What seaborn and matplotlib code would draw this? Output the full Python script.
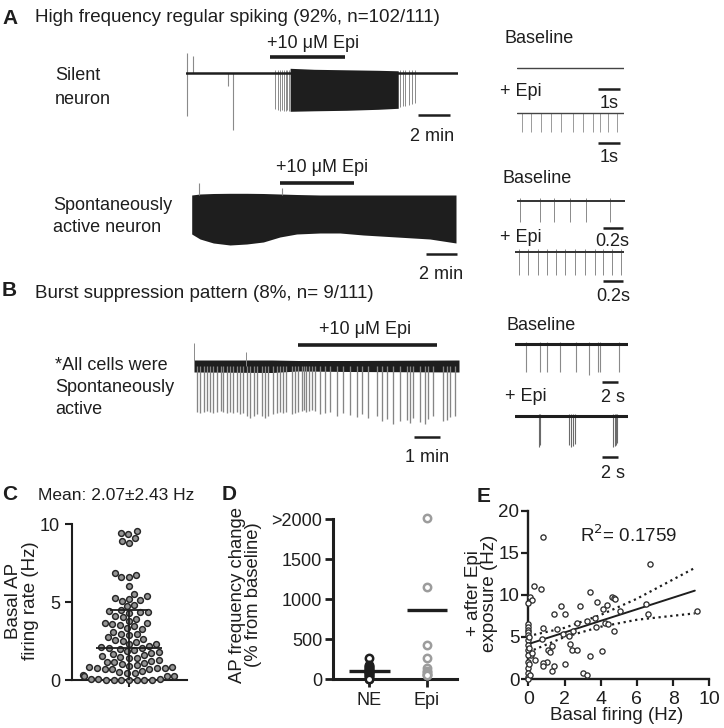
import numpy as np
import pandas as pd
import seaborn as sns
import matplotlib.pyplot as plt

# ---------------- data ----------------
# A, silent neuron (time in min, amplitude in arbitrary mV)
silent_len = 17.0
silent_events_t = [0.04, 0.46, 2.65, 2.96]
silent_events_up = [20, 17, 0, 0]
silent_events_dn = [-43, 0, -13, -57]
silent_pre_t = [5.56, 5.75, 5.88, 6.0, 6.13, 6.25, 6.31, 6.44]
silent_pre_dn = [-36, -37, -38, -37, -38, -38, -37, -38]
silent_block_t = [6.5, 8.0, 10.0, 12.0, 13.25]
silent_block_hi = [5, 4, 3.5, 3, 2.5]
silent_block_lo = [-38, -37.5, -37, -36, -35]
silent_post_t = [13.37, 13.54, 13.69, 13.9, 14.1, 14.31]
silent_post_dn = [-34, -33, -33, -32, -31, -30]
silent_epi = [5.25, 9.94]

# A, spontaneously active neuron (envelope of the dense firing)
active_len = 17.2
active_t = [0, 0.54, 1.41, 2.49, 3.58, 4.66, 5.74, 6.83, 8.35, 9.65, 11.17, 13.34, 15.5, 17.2]
active_hi = [0, 1, 1.5, 1.7, 1.7, 1.5, 1, 0.5, 0, 0, 0, 0, 0, 0]
active_lo = [-39, -44, -48, -50, -49, -47, -42, -39, -38, -38, -40, -42, -44, -48]
active_spk_t = [0.48, 5.86]
active_spk_up = [12, 7]
active_epi = [5.75, 10.57]

# A insets (time in s)
a1_len = 4.95
a1_epi_spk = [0.24, 0.65, 1.11, 1.57, 2.04, 2.58, 3.07, 3.5, 3.84, 4.22, 4.63]
a2_len = 1.1
a2_base_spk = [0.034, 0.237, 0.379, 0.541, 0.704, 0.947]
a2_epi_spk = [0.044, 0.135, 0.237, 0.322, 0.416, 0.508, 0.609, 0.711,
              0.812, 0.89, 0.982, 1.066]

# B, burst suppression (time in min)
b_len = 10.2
b_band_t = [0, 3, 4, 6, 10.2]
b_band_hi = [6, 6, 5.5, 5.5, 6]
b_band_lo = [-6, -6.5, -5, -5.5, -6]
b_spk_t = [0.10, 0.23, 0.38, 0.49, 0.62, 0.74, 0.90, 1.03, 1.13, 1.26, 1.38, 1.51,
           1.64, 1.77, 1.90, 2.03, 2.15, 2.31, 2.44, 2.60, 2.73, 2.86, 3.03, 3.18,
           3.31, 3.44, 3.56, 3.76, 3.88, 4.01, 4.14, 4.23, 4.33, 4.44, 4.53, 4.65,
           4.85, 5.04, 5.23, 5.49, 5.74, 6.0, 6.26, 6.45, 6.71, 7.03, 7.22, 7.41,
           7.67, 7.92, 8.18, 8.31, 8.44, 8.69, 8.88, 9.01, 9.21, 9.59, 9.72, 9.87, 10.04]
b_spk_dn = [-46, -47, -46, -45, -46, -47, -46, -45, -46, -47, -46, -47,
            -46, -48, -47, -50, -52, -50, -48, -50, -52, -50, -48, -47,
            -46, -47, -46, -48, -47, -46, -45, -44, -46, -45, -44, -45,
            -48, -47, -46, -50, -47, -49, -51, -48, -52, -50, -55, -53,
            -58, -55, -54, -57, -52, -56, -58, -53, -50, -55, -54, -51, -50]
b_up_t = [0.0, 2.0]
b_up = [23, 14]
b_epi = [4.0, 9.35]

# B insets (time in s)
bi_len = 13.6
bi_base_spk = [1.33, 3.0, 3.9, 5.4, 7.35, 8.9, 10.0, 10.25, 12.55]
bi_base_dn = [-28, -28, -28, -28, -28, -31, -28, -28, -28]
bi_epi_spk = [2.9, 2.97, 6.54, 6.71, 7.03, 7.27, 11.85, 12.01, 12.17, 12.33]
bi_epi_dn = [-31, -29, -29, -31, -30, -28, -31, -30, -29, -27]

# C, basal firing rate (Hz)
basal_rate = [9.55, 9.45, 9.35, 9.1, 8.95, 8.8,
              6.85, 6.75, 6.65, 6.6, 6.05, 5.55, 5.4,
              5.25, 5.2, 5.15, 5.1, 4.85, 4.75,
              4.5, 4.45, 4.4, 4.35, 4.3, 4.15, 4.05, 3.95,
              3.8, 3.7, 3.65, 3.6, 3.55, 3.45, 3.35, 3.3,
              3.1, 3.0, 2.95, 2.9, 2.75, 2.65, 2.6, 2.55,
              2.45, 2.35, 2.3, 2.2, 2.15, 2.1, 2.05, 2.0, 1.95,
              1.85, 1.8, 1.75, 1.7, 1.6, 1.55, 1.5, 1.45, 1.4,
              1.3, 1.25, 1.2, 1.15, 1.1, 1.05,
              0.95, 0.9, 0.85, 0.85, 0.8, 0.8, 0.8, 0.75, 0.75, 0.7,
              0.6, 0.55, 0.5, 0.45,
              0.35, 0.3, 0.3, 0.25,
              0.1, 0.08, 0.06, 0.05, 0.04, 0.03, 0.02, 0.01, 0.0, 0.0]
basal_mean = 2.07
basal_sd = 2.43

# D, AP frequency change (% from baseline)
groups = ['NE', 'Epi']
ne_change = [262, 185, 170, 155, 140, 125, 115, 105, 100, 95, 90, 80, 70, 55, 40, 25, 10, 0]
epi_change = [2020, 1158, 429, 262, 140, 110, 90, 70, 60, 50]
group_means = [104, 866]
d_ticks = [0, 500, 1000, 1500, 2000]
d_ticklabels = ['0', '500', '1000', '1500', '>2000']

# E, basal vs after Epi (Hz)
e_basal = [0.83, 0.31, 0.68, 0.09, 0.22, 0.79, 0.74, 0.37, 0.15, 1.05, 0.79, 0.83, 1.29,
           0, 0, 0, 0, 0, 0, 0, 0, 0, 0, 0, 0, 0, 0, 0, 0.05, 0.05, 0.05, 0.1, 0.18,
           1.1, 1.2, 1.33, 1.42, 1.42, 1.57, 1.79, 1.9, 2.03, 2.03, 2.27, 2.3, 2.43,
           2.49, 2.67, 2.67, 2.85, 3.04, 3.26, 3.22, 3.4, 3.4, 3.68, 3.74, 3.78, 4.09,
           4.14, 4.24, 4.33, 4.42, 4.6, 4.75, 4.79, 4.75, 5.06, 6.5, 6.59, 6.72, 9.3]
e_after = [16.9, 11.05, 10.7, 9.7, 9.4, 6.1, 4.7, 2.26, 2.9, 2.0, 1.9, 1.6, 0.9,
           9.0, 6.5, 6.2, 5.8, 5.6, 5.2, 4.6, 4.0, 3.4, 2.85, 2.06, 1.27, 0.67, 0.28, 0.0,
           5.0, 3.7, 1.8, 0.5, 3.05,
           3.5, 3.25, 3.9, 1.6, 7.7, 5.9, 8.7, 5.35, 7.7, 1.8, 5.1, 4.1, 3.5,
           5.7, 6.6, 3.4, 8.7, 0.7, 0.5, 6.9, 10.3, 2.7, 7.2, 6.2, 9.1, 3.3,
           8.3, 6.7, 8.8, 6.5, 9.7, 9.6, 9.5, 5.7, 8.1, 8.9, 7.7, 13.7, 8.1]
fit_x = [0, 2, 4, 6, 9.2]
fit_y = [4.15, 5.53, 6.91, 8.29, 10.5]
ci_hi = [5.1, 6.08, 7.61, 9.54, 13.2]
ci_lo = [3.2, 4.98, 6.21, 7.04, 7.8]

# ---------------- figure ----------------
sns.set_theme(style='ticks')
plt.rcParams['font.family'] = ['Liberation Sans', 'DejaVu Sans']

INK = '#1e1e1e'
GREY = '#8a8a8a'
W, H = 724, 728
fig = plt.figure(figsize=(W / 100, H / 100), dpi=100)


def ftext(x, y, s, size=13, ha='left', **kw):
    fig.text(x / W, 1 - y / H, s, fontsize=size, ha=ha, va='center', color=INK, **kw)


def trace_ax(x0, x1, length, base, top, bottom):
    # axes whose vertical unit is one pixel, zero at the trace baseline
    ax = fig.add_axes([x0 / W, 1 - bottom / H, (x1 - x0) / W, (bottom - top) / H])
    ax.set_xlim(0, length)
    ax.set_ylim(base - bottom, base - top)
    ax.axis('off')
    return ax


def hbar(ax, t0, t1, v, lw=1.8):
    ax.plot([t0, t1], [v, v], color=INK, lw=lw, solid_capstyle='butt', clip_on=False)


def atext(ax, t, v, s, size=13):
    ax.text(t, v, s, ha='center', va='center', fontsize=size, color=INK, clip_on=False)


# ---- panel A: silent neuron ----
ax = trace_ax(186, 458.3, silent_len, 73.3, 35, 145)
ax.vlines(silent_events_t, silent_events_dn, silent_events_up, color=GREY, lw=0.8)
ax.vlines(silent_pre_t, silent_pre_dn, 3, color=GREY, lw=0.7)
ax.vlines(silent_post_t, silent_post_dn, 3, color=GREY, lw=0.7)
ax.plot([0, silent_len], [0, 0], color=INK, lw=1.8)
ax.fill_between(silent_block_t, silent_block_lo, silent_block_hi, color=INK, lw=0)
hbar(ax, silent_epi[0], silent_epi[1], 16.6, lw=2.6)
atext(ax, 7.94, 30.3, '+10 μM Epi')
hbar(ax, 14.5, 16.5, -41.7)
atext(ax, 15.36, -63.4, '2 min')

# ---- panel A: spontaneously active neuron ----
ax = trace_ax(191.7, 456, active_len, 195, 155, 285)
ax.fill_between(active_t, active_lo, active_hi, color=INK, lw=0)
ax.vlines(active_spk_t, 0, active_spk_up, color=GREY, lw=0.8)
hbar(ax, active_epi[0], active_epi[1], 12.3, lw=2.6)
atext(ax, 8.47, 27, '+10 μM Epi')
hbar(ax, 15.26, 17.26, -59)
atext(ax, 16.2, -80, '2 min')

# ---- A insets ----
ax = trace_ax(516.7, 624, a1_len, 68.3, 60, 110)
ax.plot([0, a1_len], [0, 0], color='#444444', lw=1.0)
hbar(ax, 3.76, 4.76, -21)
atext(ax, 4.26, -35, '1s')

ax = trace_ax(516.7, 624, a1_len, 113.3, 105, 165)
ax.vlines(a1_epi_spk, -18.4, 0, color='#9a9a9a', lw=0.7)
ax.plot([0, a1_len], [0, 0], color='#444444', lw=1.0)
hbar(ax, 3.76, 4.76, -29.4)
atext(ax, 4.26, -44, '1s')

ax = trace_ax(516.7, 625, a2_len, 200.7, 190, 250)
ax.vlines(a2_base_spk, -21, 3, color=GREY, lw=0.7)
ax.plot([0, a2_len], [0, 0], color='#333333', lw=1.4)
hbar(ax, 0.876, 1.076, -27.6)
atext(ax, 0.975, -41, '0.2s')

ax = trace_ax(515, 624, a2_len, 252.3, 245, 305)
ax.vlines(a2_epi_spk, -22.7, 3, color=GREY, lw=0.7)
ax.plot([0, a2_len], [0, 0], color='#333333', lw=1.4)
hbar(ax, 0.893, 1.093, -28.4)
atext(ax, 0.99, -43.7, '0.2s')

# ---- panel B ----
ax = trace_ax(194, 459, b_len, 366, 315, 470)
ax.vlines(b_spk_t, b_spk_dn, 0, color='#858585', lw=0.95)
ax.vlines(b_up_t, 0, b_up, color=GREY, lw=0.7)
ax.fill_between(b_band_t, b_band_lo, b_band_hi, color=INK, lw=0)
hbar(ax, b_epi[0], b_epi[1], 21, lw=2.6)
atext(ax, 6.58, 36, '+10 μM Epi')
hbar(ax, 8.46, 9.46, -71)
atext(ax, 8.96, -92, '1 min')

ax = trace_ax(515, 628, bi_len, 344, 335, 405)
ax.vlines(bi_base_spk, bi_base_dn, 2, color=GREY, lw=0.8)
ax.plot([0, bi_len], [0, 0], color=INK, lw=2.2)
hbar(ax, 10.45, 12.45, -38.3)
atext(ax, 11.77, -53, '2 s')

ax = trace_ax(515, 628, bi_len, 416, 405, 480)
ax.vlines(bi_epi_spk, bi_epi_dn, 2, color='#6a6a6a', lw=0.8)
ax.plot([0, bi_len], [0, 0], color=INK, lw=2.2)
hbar(ax, 10.45, 12.45, -40.7)
atext(ax, 11.77, -57, '2 s')

# ---- text labels for A/B ----
ftext(2, 18, 'A', size=15, weight='bold')
ftext(35, 17, 'High frequency regular spiking (92%, n=102/111)', size=13.5)
ftext(55, 76, 'Silent')
ftext(55, 99, 'neuron')
ftext(505, 38.3, 'Baseline')
ftext(500, 91.7, '+ Epi')
ftext(53, 205, 'Spontaneously')
ftext(53, 228, 'active neuron')
ftext(503, 178.3, 'Baseline')
ftext(500, 237.3, '+ Epi')
ftext(2, 291, 'B', size=15, weight='bold')
ftext(35, 293, 'Burst suppression pattern (8%, n= 9/111)', size=13.5)
ftext(55, 365, '*All cells were')
ftext(55, 388, 'Spontaneously')
ftext(55, 410, 'active')
ftext(507, 325, 'Baseline')
ftext(505, 397, '+ Epi')

# ---- panel C ----
axC = fig.add_axes([72 / W, 1 - 680.3 / H, (187 - 72) / W, (680.3 - 524.3) / H])
sns.swarmplot(y=basal_rate, ax=axC, size=4.2, color='#959595',
              edgecolor='#262626', linewidth=1.05)
for coll in axC.collections:
    coll.set_clip_on(False)
axC.hlines(basal_mean, -0.29, 0.29, color=INK, lw=1.3, zorder=4)
axC.hlines(basal_mean + basal_sd, -0.165, 0.165, color=INK, lw=1.3, zorder=4)
axC.vlines(0, 0, basal_mean + basal_sd, color=INK, lw=1.3, zorder=4)
axC.set_xlim(-0.496, 0.504)
axC.set_ylim(0, 10)
axC.set_yticks([0, 5, 10])
axC.set_xticks([0])
axC.set_xticklabels([''])
axC.set_xlabel('')
axC.set_ylabel('')
axC.tick_params(labelsize=13, length=5, width=1.5, colors=INK)
sns.despine(ax=axC)
for sp in ['left', 'bottom']:
    axC.spines[sp].set_linewidth(1.5)
    axC.spines[sp].set_color(INK)
ftext(2, 495, 'C', size=15, weight='bold')
ftext(38, 495, 'Mean: 2.07±2.43 Hz', size=12.5)
fig.text(22 / W, 1 - 601 / H, 'Basal AP\nfiring rate (Hz)', rotation=90, ha='center',
         va='center', fontsize=13.5, linespacing=1.0, color=INK)

# ---- panel D ----
df_d = pd.DataFrame({
    'group': ['NE'] * len(ne_change) + ['Epi'] * len(epi_change),
    'change': ne_change + epi_change,
})
axD = fig.add_axes([333.3 / W, 1 - 679.3 / H, (456.7 - 333.3) / W, (679.3 - 519.3) / H])
for grp, edge in zip(groups, [INK, '#9c9c9c']):
    sns.stripplot(data=df_d[df_d['group'] == grp], x='group', y='change', order=groups,
                  jitter=False, color='white', edgecolor=edge, linewidth=1.8, size=5.3, ax=axD)
for coll in axD.collections:
    coll.set_clip_on(False)
axD.hlines(group_means, [-0.35, 0.65], [0.35, 1.35], color=INK, lw=2.4, zorder=4)
axD.set_xlim(-0.63, 1.52)
axD.set_ylim(0, 2000)
axD.set_yticks(d_ticks)
axD.set_yticklabels(d_ticklabels)
axD.set_xlabel('')
axD.set_ylabel('')
axD.tick_params(labelsize=13, length=6, width=2, colors=INK)
axD.tick_params(axis='y', pad=2)
sns.despine(ax=axD)
for sp in ['left', 'bottom']:
    axD.spines[sp].set_linewidth(2.2)
    axD.spines[sp].set_color(INK)
ftext(222, 495, 'D', size=15, weight='bold')
fig.text(245.5 / W, 1 - 595 / H, 'AP frequency change\n(% from baseline)', rotation=90,
         ha='center', va='center', fontsize=13.3, linespacing=1.0, color=INK)

# ---- panel E ----
axE = fig.add_axes([528.3 / W, 1 - 679 / H, (709.3 - 528.3) / W, (679 - 510.7) / H])
sns.scatterplot(x=e_basal, y=e_after, ax=axE, s=14, color='white', edgecolor='#2e2e2e',
                linewidth=0.95, clip_on=False, zorder=3)
sns.lineplot(x=fit_x, y=fit_y, ax=axE, color=INK, lw=1.4)
sns.lineplot(x=fit_x, y=ci_hi, ax=axE, color=INK, lw=1.6, linestyle=':')
sns.lineplot(x=fit_x, y=ci_lo, ax=axE, color=INK, lw=1.6, linestyle=':')
axE.set_xlim(0, 10)
axE.set_ylim(0, 20)
axE.set_xticks(range(0, 11, 2))
axE.set_yticks(range(0, 21, 5))
axE.tick_params(labelsize=14, length=5, width=1.6, colors=INK)
axE.tick_params(axis='y', labelsize=13.5, pad=1.5)
sns.despine(ax=axE)
for sp in ['left', 'bottom']:
    axE.spines[sp].set_linewidth(1.7)
    axE.spines[sp].set_color(INK)
axE.text(2.86, 17.1, 'R$^2$= 0.1759', fontsize=13.5, va='center', color=INK)
ftext(477, 497, 'E', size=15, weight='bold')
fig.text(481.5 / W, 1 - 593 / H, '+ after Epi\nexposure (Hz)', rotation=90,
         ha='center', va='center', fontsize=13.5, linespacing=1.0, color=INK)
ftext(617, 715, 'Basal firing (Hz)', size=13.5, ha='center')

fig.savefig('out.png', dpi=100)
